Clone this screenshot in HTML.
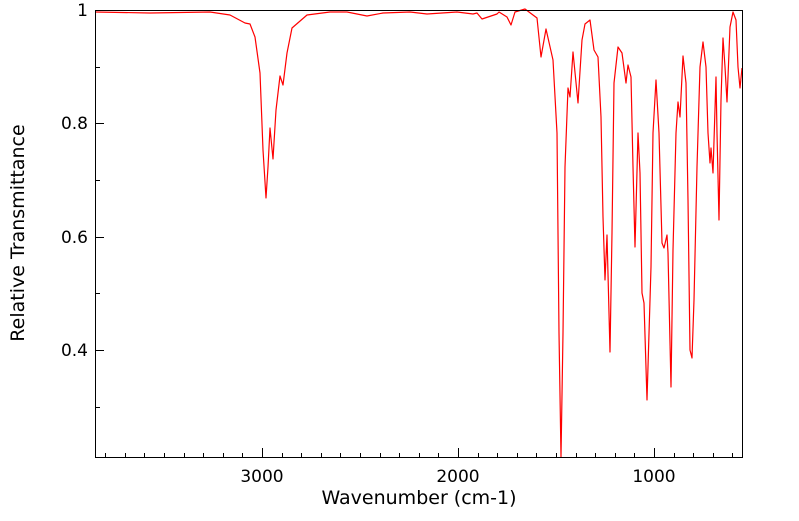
<!DOCTYPE html>
<html><head><style>body{margin:0;background:#fff}</style></head><body>
<svg width="799" height="516" xmlns="http://www.w3.org/2000/svg" font-family="DejaVu Sans, sans-serif">
<rect width="799" height="516" fill="#fff"/>
<g stroke="#000" stroke-width="1">
<path d="M262.5,457v-9M458.5,457v-9M654.5,457v-9"/>
<path d="M105.5,457v-4M125.5,457v-4M144.5,457v-4M164.5,457v-4M184.5,457v-4M203.5,457v-4M223.5,457v-4M242.5,457v-4M282.5,457v-4M301.5,457v-4M321.5,457v-4M340.5,457v-4M360.5,457v-4M380.5,457v-4M399.5,457v-4M419.5,457v-4M438.5,457v-4M478.5,457v-4M497.5,457v-4M517.5,457v-4M536.5,457v-4M556.5,457v-4M576.5,457v-4M595.5,457v-4M615.5,457v-4M634.5,457v-4M674.5,457v-4M693.5,457v-4M713.5,457v-4M732.5,457v-4"/>
<path d="M95,10.5h9M95,123.5h9M95,237.5h9M95,350.5h9"/>
<path d="M95,67.5h5M95,180.5h5M95,293.5h5M95,407.5h5"/>
</g>
<polyline fill="none" stroke="#f00" stroke-width="1.2" stroke-linejoin="round" points="95,12 150,13 210,12 230,15 245,23 250,24 255,37 260,73 263,150 266,198 268,167 270,128 273,159 276,110 280,76 283,85 287,53 292,28 307,15 330,12 347,12 367,16 383,13 410,12 427,14 457,12 473,14 477,13 482,19 497,14 499,12 507,17 511,25 515,12 525,9 533,15 537,18 541,57 546,29 553,60 557,133 559,333 561,457 563,333 565,167 568,88 570,97 573,52 578,103 582,40 585,24 590,20 594,50 598,57 601,117 603,217 605,280 607,235 610,352 612,233 614,83 618,47 622,53 626,83 628,65 631,77 633,167 635,247 638,133 640,173 642,293 644,303 647,400 651,267 653,133 656,80 659,133 662,243 664,248 667,235 668,253 671,387 673,250 676,133 678,102 680,117 683,56 686,83 688,200 690,350 692,358 694,300 697,167 700,67 703,42 706,67 708,133 710,163 711,148 713,173 716,77 717,133 719,220 721,100 723,38 725,67 727,102 730,27 733,12 736,20 738,67 740,88 742,68"/>
<rect x="95.5" y="10.5" width="647" height="447" fill="none" stroke="#000" stroke-width="1"/>
<g font-size="17" fill="#000">
<text x="262" y="482" text-anchor="middle">3000</text>
<text x="458" y="482" text-anchor="middle">2000</text>
<text x="654" y="482" text-anchor="middle">1000</text>
<text x="88" y="16" text-anchor="end">1</text>
<text x="88" y="129" text-anchor="end">0.8</text>
<text x="88" y="243" text-anchor="end">0.6</text>
<text x="88" y="356" text-anchor="end">0.4</text>
<text x="419" y="504" text-anchor="middle" font-size="19">Wavenumber (cm-1)</text>
<text transform="translate(24,233) rotate(-90)" text-anchor="middle" font-size="19">Relative Transmittance</text>
</g>
</svg>
</body></html>
